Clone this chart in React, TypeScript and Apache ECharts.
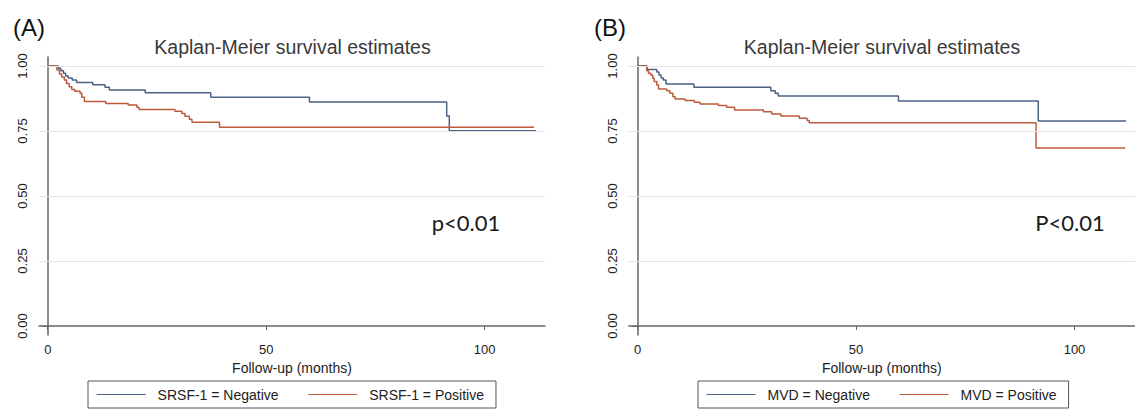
import React, { useEffect, useRef } from "react";
import * as echarts from "echarts";

// ---- Data ----
const panelLabels = ["(A)", "(B)"];
const chartTitle = "Kaplan-Meier survival estimates";
const xAxisTitle = "Follow-up (months)";
const xTicks = [0, 50, 100];
const yTicks = [0, 0.25, 0.5, 0.75, 1];
const pValues = ["p<0.01", "P<0.01"];

const seriesNamesA = ["SRSF-1 = Negative", "SRSF-1 = Positive"];
const seriesNamesB = ["MVD = Negative", "MVD = Positive"];

// Panel A, SRSF-1 negative
const aNegTime = [0, 2.4, 3.0, 3.6, 4.1, 4.7, 5.6, 6.6, 10.3, 13.1, 14.1, 22.3, 37.3, 59.9, 91.3, 91.9, 111.7];
const aNegSurv = [1, 0.991, 0.982, 0.972, 0.962, 0.954, 0.946, 0.937, 0.928, 0.918, 0.908, 0.897, 0.88, 0.862, 0.808, 0.751, 0.751];
// Panel A, SRSF-1 positive
const aPosTime = [0, 2.1, 2.7, 3.2, 3.8, 4.3, 4.9, 5.5, 6.2, 7.4, 7.8, 8.4, 13.3, 18.4, 20.4, 20.9, 29.1, 30.7, 31.4, 32.4, 33.0, 39.3, 111.3];
const aPosSurv = [1, 0.985, 0.969, 0.958, 0.946, 0.933, 0.92, 0.91, 0.903, 0.895, 0.88, 0.863, 0.856, 0.85, 0.841, 0.833, 0.826, 0.817, 0.807, 0.795, 0.784, 0.764, 0.764];
// Panel B, MVD negative
const bNegTime = [0, 2.2, 4.4, 4.9, 5.4, 5.9, 6.5, 12.9, 30.5, 31.5, 32.2, 59.7, 91.7, 111.8];
const bNegSurv = [1, 0.987, 0.977, 0.965, 0.954, 0.946, 0.931, 0.918, 0.905, 0.895, 0.885, 0.865, 0.788, 0.788];
// Panel B, MVD positive
const bPosTime = [0, 2.1, 2.5, 3.0, 3.5, 3.8, 4.4, 4.8, 6.7, 7.4, 8.1, 8.6, 10.9, 13.0, 14.3, 18.5, 20.4, 22.2, 28.8, 30.7, 32.8, 37.0, 38.8, 39.3, 91.2, 111.6];
const bPosSurv = [1, 0.982, 0.972, 0.965, 0.953, 0.94, 0.927, 0.912, 0.905, 0.895, 0.882, 0.873, 0.867, 0.861, 0.854, 0.848, 0.841, 0.831, 0.824, 0.815, 0.808, 0.799, 0.79, 0.782, 0.685, 0.685];

const BLUE = "#4b6284";
const RED = "#bd5a3a";

const zip = (t: number[], s: number[]) => t.map((v, i) => [v, s[i]]);

export default function App() {
  const ref = useRef<HTMLDivElement>(null);

  useEffect(() => {
    if (!ref.current) return;
    const chart = echarts.init(ref.current, undefined, { renderer: "svg" });

    const font = "'Liberation Sans', Arial, Helvetica, sans-serif";
    const gridLefts = [39, 628.8];
    const gridW = 506;
    const gridTop = 56.9;
    const gridH = 278.2;

    const xAxes = [0, 1].map((i) => ({
      type: "value",
      gridIndex: i,
      min: -2,
      max: 113.8,
      axisLine: { show: true, lineStyle: { color: "#666", width: 1.5 } },
      axisTick: { show: true, length: 4, customValues: xTicks, lineStyle: { color: "#666", width: 1 } },
      axisLabel: { customValues: xTicks, margin: 8, fontSize: 13, color: "#222", fontFamily: font },
      splitLine: { show: false },
      name: xAxisTitle,
      nameLocation: "middle",
      nameGap: 21,
      nameTextStyle: { fontSize: 14, color: "#222", fontFamily: font },
    }));

    const yAxes = [0, 1].map((i) => ({
      type: "value",
      gridIndex: i,
      min: -0.035,
      max: 1.035,
      axisLine: { show: true, lineStyle: { color: "#666", width: 1.5 } },
      axisTick: { show: true, length: 5, customValues: yTicks, lineStyle: { color: "#666", width: 1 } },
      axisLabel: {
        customValues: yTicks,
        rotate: 90,
        margin: 10,
        fontSize: 13,
        color: "#222",
        fontFamily: font,
        formatter: (v: number) => v.toFixed(2),
      },
      splitLine: { show: false },
    }));

    const gridSeries = [0, 1].map((i) => ({
      name: "grid" + i,
      type: "line",
      xAxisIndex: i,
      yAxisIndex: i,
      data: [],
      z: 1,
      silent: true,
      markLine: {
        silent: true,
        symbol: ["none", "none"],
        label: { show: false },
        lineStyle: { color: "#e4e4e4", width: 1, type: "solid" },
        data: yTicks.filter((v) => v > 0).map((v) => ({ yAxis: v })),
      },
    }));

    const km = (name: string, idx: number, t: number[], s: number[], color: string) => ({
      name,
      type: "line",
      xAxisIndex: idx,
      yAxisIndex: idx,
      step: "end",
      symbol: "none",
      showSymbol: false,
      z: 3,
      color,
      lineStyle: { color, width: 1.5 },
      data: zip(t, s),
    });

    const legendCommon = {
      orient: "horizontal",
      top: 381,
      padding: [6.5, 12, 6.5, 8],
      itemWidth: 49,
      itemHeight: 14,
      itemGap: 29,
      borderColor: "#555",
      borderWidth: 1,
      selectedMode: false,
      itemStyle: { opacity: 0 },
      lineStyle: { width: 1.2 },
      textStyle: { fontSize: 14, color: "#222", fontFamily: font, padding: [0, 0, 0, 7] },
    };

    const textEl = (x: number, y: number, text: string, size: number, color: string, family = font) => ({
      type: "text",
      x,
      y,
      style: {
        text,
        fontSize: size,
        fill: color,
        fontFamily: family,
        textAlign: "center",
        textVerticalAlign: "middle",
      },
    });

    chart.setOption({
      animation: false,
      backgroundColor: "#ffffff",
      grid: gridLefts.map((l) => ({
        left: l,
        top: gridTop,
        width: gridW,
        height: gridH,
        containLabel: false,
        outerBoundsMode: "none",
      })),
      xAxis: xAxes,
      yAxis: yAxes,
      legend: [
        { ...legendCommon, left: 88, data: seriesNamesA },
        { ...legendCommon, left: 698, data: seriesNamesB },
      ],
      series: [
        ...gridSeries,
        km(seriesNamesA[0], 0, aNegTime, aNegSurv, BLUE),
        km(seriesNamesA[1], 0, aPosTime, aPosSurv, RED),
        km(seriesNamesB[0], 1, bNegTime, bNegSurv, BLUE),
        km(seriesNamesB[1], 1, bPosTime, bPosSurv, RED),
      ],
      graphic: [
        textEl(29, 27, panelLabels[0], 24, "#111"),
        textEl(610, 27, panelLabels[1], 24, "#111"),
        textEl(292.5, 47, chartTitle, 19.5, "#3a3a3a"),
        textEl(882, 47, chartTitle, 19.5, "#3a3a3a"),
        textEl(466, 222, pValues[0], 22, "#1a1a1a", "Lato, 'Open Sans', sans-serif"),
        textEl(1070, 222, pValues[1], 22, "#1a1a1a", "Lato, 'Open Sans', sans-serif"),
      ],
    });

    return () => chart.dispose();
  }, []);

  return (
    <div
      ref={ref}
      style={{ position: "fixed", left: 0, top: 0, width: 1135, height: 409, background: "#fff" }}
    />
  );
}
